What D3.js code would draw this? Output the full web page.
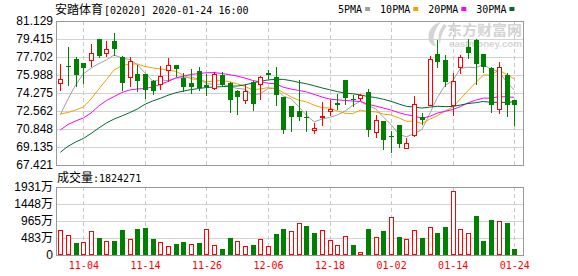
<!DOCTYPE html>
<html>
<head>
<meta charset="utf-8">
<script src="https://cdn.jsdelivr.net/npm/d3@7"></script>
<style>
body { margin: 0; background: #fff; }
svg { display: block; }
</style>
</head>
<body>
<div id="viz"></div>
<script>
// daily k-line, 安踏体育 (02020)
const dates = ['2019-10-30','2019-10-31','2019-11-01','2019-11-04','2019-11-05','2019-11-06','2019-11-07','2019-11-08','2019-11-11','2019-11-12',
  '2019-11-13','2019-11-14','2019-11-15','2019-11-18','2019-11-19','2019-11-20','2019-11-21','2019-11-22','2019-11-25','2019-11-26',
  '2019-11-27','2019-11-28','2019-11-29','2019-12-02','2019-12-03','2019-12-04','2019-12-05','2019-12-06','2019-12-09','2019-12-10',
  '2019-12-11','2019-12-12','2019-12-13','2019-12-16','2019-12-17','2019-12-18','2019-12-19','2019-12-20','2019-12-23','2019-12-24',
  '2019-12-27','2019-12-30','2019-12-31','2020-01-02','2020-01-03','2020-01-06','2020-01-07','2020-01-08','2020-01-09','2020-01-10',
  '2020-01-13','2020-01-14','2020-01-15','2020-01-16','2020-01-17','2020-01-20','2020-01-21','2020-01-22','2020-01-23','2020-01-24'];
const open = [75.20,76.85,77.54,77.10,77.45,79.46,78.08,79.20,77.67,75.77,
  76.08,76.08,75.39,75.16,76.44,76.97,75.70,75.23,76.40,75.07,
  74.75,76.00,75.23,74.44,73.58,75.32,75.16,76.18,75.77,73.90,
  73.01,72.53,71.99,70.75,71.99,72.53,73.32,75.54,73.71,73.80,
  74.37,70.54,71.58,70.18,71.20,69.01,70.31,71.96,73.16,77.99,
  77.42,73.10,76.72,78.65,79.32,77.99,76.65,72.78,76.02,73.61];
const high = [77.04,78.65,77.67,77.15,78.94,79.46,79.19,79.99,77.77,77.67,
  76.97,76.08,75.54,76.82,77.61,76.97,76.18,76.56,76.75,76.08,
  76.24,76.24,75.29,74.59,75.16,75.39,75.87,76.44,76.72,73.90,
  73.01,75.54,72.53,71.42,73.42,73.64,74.18,75.54,74.12,74.18,
  74.69,72.21,71.58,70.63,71.20,69.96,74.02,72.37,77.77,79.35,
  77.85,76.18,77.92,79.44,79.44,77.99,76.75,77.20,76.18,73.61];
const low = [74.59,75.07,74.91,75.20,76.81,77.70,77.77,77.92,74.59,74.94,
  74.44,73.80,74.18,74.69,75.39,75.87,74.49,74.28,74.59,74.12,
  74.69,75.00,72.47,72.31,73.32,72.69,73.73,75.75,73.10,70.47,
  70.63,71.74,70.63,70.47,71.20,72.21,72.78,73.23,73.01,73.64,
  70.18,70.06,68.97,68.63,69.10,69.01,70.15,71.32,73.10,76.75,
  74.91,72.21,76.18,77.60,75.14,76.27,72.47,72.37,72.05,71.20];
const close = [75.61,76.78,76.02,76.69,78.08,77.80,78.49,78.45,75.23,77.35,
  75.39,74.59,74.50,75.86,76.91,76.59,74.85,74.85,74.75,74.85,
  76.08,75.07,73.64,73.90,74.49,73.23,75.80,76.02,74.06,70.78,
  71.95,72.00,71.93,70.94,72.09,72.78,73.16,73.80,73.61,74.06,
  70.72,71.68,69.77,70.12,69.42,69.49,73.23,71.74,77.51,77.20,
  75.29,75.39,77.67,78.08,77.04,76.72,73.10,76.72,73.16,73.10];
const ma5 = [72.21,73.70,75.05,76.10,76.64,77.07,77.42,77.90,77.61,77.46,
  76.98,76.20,75.41,75.54,75.45,75.69,75.74,75.81,75.59,75.18,
  75.08,75.12,74.88,74.71,74.64,74.07,74.21,74.69,74.72,73.98,
  73.72,72.97,72.15,71.53,71.79,71.95,72.18,72.55,73.09,73.48,
  73.07,72.77,71.97,71.27,70.34,70.10,70.41,70.80,72.28,73.83,
  74.99,75.43,76.61,76.73,76.69,76.98,76.52,76.33,75.35,74.56];
const ma10 = [72.28,72.42,72.66,72.94,73.71,74.64,75.56,76.48,76.86,77.05,
  77.03,76.81,76.66,76.57,76.46,76.34,75.97,75.61,75.56,75.34,
  75.41,75.46,75.35,75.15,74.91,74.57,74.67,74.78,74.71,74.31,
  73.90,73.59,73.42,73.12,72.88,72.84,72.57,72.35,72.31,72.64,
  72.51,72.48,72.26,72.18,71.91,71.58,71.59,71.38,71.77,72.09,
  72.55,72.92,73.71,74.50,75.26,75.99,75.97,76.47,76.04,75.63];
const ma20 = [70.75,71.28,71.61,71.90,72.37,73.04,73.56,73.94,74.32,74.56,
  74.66,74.70,74.85,75.09,75.37,75.70,75.89,76.04,76.13,76.20,
  76.22,76.13,76.02,75.88,75.70,75.47,75.33,75.21,75.15,74.82,
  74.65,74.52,74.38,74.14,73.90,73.70,73.62,73.57,73.51,73.47,
  73.20,73.03,72.84,72.65,72.40,72.21,72.08,71.87,72.04,72.36,
  72.53,72.70,72.98,73.34,73.59,73.79,73.78,73.93,73.91,73.86];
const ma30 = [68.63,69.20,69.61,69.95,70.42,70.94,71.42,71.80,72.09,72.40,
  72.75,73.20,73.51,73.77,74.06,74.30,74.46,74.60,74.70,74.80,
  74.84,74.88,74.92,74.94,75.05,75.22,75.39,75.52,75.58,75.57,
  75.45,75.29,75.15,74.96,74.76,74.59,74.41,74.26,74.20,74.09,
  73.94,73.84,73.68,73.48,73.23,73.00,72.94,72.84,72.93,73.01,
  72.98,72.99,73.13,73.27,73.35,73.47,73.38,73.40,73.37,73.45];
const volume = [7100000,5680000,3500000,3690000,6820000,4920000,3980000,3980000,7100000,4540000,
  7380000,7760000,4540000,3690000,2560000,3120000,3790000,3120000,3410000,7380000,
  2840000,1700000,4920000,3980000,2560000,2840000,4540000,2560000,5960000,7380000,
  6820000,8990000,8240000,6250000,7000000,4260000,2840000,5400000,2840000,760000,
  7380000,5110000,6820000,10700000,5110000,4540000,7000000,4830000,7950000,6250000,
  7950000,18180000,7380000,6150000,11080000,3980000,9940000,9560000,9090000,1824271];

const priceTicks = [81.129, 79.415, 77.702, 75.988, 74.275, 72.562, 70.848, 69.135, 67.421];
const volTicks = [0, 4830000, 9650000, 14480000, 19310000];
const tickDates = ['2019-11-04','2019-11-14','2019-11-26','2019-12-06','2019-12-18','2020-01-02','2020-01-14','2020-01-24'];
const maNames = ['5PMA', '10PMA', '20PMA', '30PMA'];
const stockName = '安踏体育';
const stamp = '[02020] 2020-01-24 16:00';

const W = 578, H = 276;
const left = 56, right = 523;
const pTop = 21, pBot = 165, vTop = 187, vBot = 255;
const RED = '#ff0000', GREEN = '#008000';
const maColors = ['#a0a0a0', '#f5a000', '#ff00ff', '#006a32'];
const mono = '"DejaVu Sans Mono", monospace';
const cjk = '"Noto Sans CJK SC", sans-serif';
const sans = '"Liberation Sans", "Noto Sans CJK SC", sans-serif';

const rows = dates.map((d, i) => ({
    date: d, o: open[i], h: high[i], l: low[i], c: close[i], v: volume[i],
    vup: i === 0 ? close[i] >= open[i] : close[i] >= close[i - 1]
}));

const svg = d3.select('#viz').append('svg')
    .attr('width', W)
    .attr('height', H);

const x = d3.scalePoint().domain(dates).range([60.3, 514.2]);
const y = d3.scaleLinear()
    .domain([priceTicks[priceTicks.length - 1], priceTicks[0]])
    .range([pBot, pTop]);
const yv = d3.scaleLinear()
    .domain([0, volTicks[volTicks.length - 1]])
    .range([vBot, vTop]);

// watermark
const wm = svg.append('g').attr('fill', '#d4d4d4');
wm.append('path')
    .attr('d', 'M441,22 C432,24 427,32 429,40 C430,44 433,46 436,46 C432,40 433,31 441,22 Z M444,24 C439,30 437,37 440,44 C441,36 443,30 447,26 Z');
wm.append('text').attr('x', 447).attr('y', 34.5)
    .style('font-family', cjk).style('font-size', '14px').style('font-weight', 'bold')
    .attr('textLength', 75).attr('lengthAdjust', 'spacingAndGlyphs')
    .text('东方财富网');
wm.append('text').attr('x', 449).attr('y', 47)
    .attr('textLength', 73).attr('lengthAdjust', 'spacingAndGlyphs')
    .style('font-family', sans).style('font-size', '9px').style('font-weight', 'bold')
    .text('eastmoney.com');

// grid
const grid = svg.append('g').attr('shape-rendering', 'crispEdges');
grid.selectAll('line.ph').data(priceTicks.slice(1, -1)).enter().append('line')
    .attr('x1', left).attr('x2', right)
    .attr('y1', d => Math.round(y(d)) + 0.5).attr('y2', d => Math.round(y(d)) + 0.5)
    .attr('stroke', '#d2d2d2');
grid.selectAll('line.vh').data(volTicks.slice(1, -1)).enter().append('line')
    .attr('x1', left).attr('x2', right)
    .attr('y1', d => Math.round(yv(d)) + 0.5).attr('y2', d => Math.round(yv(d)) + 0.5)
    .attr('stroke', '#d2d2d2');
[[pTop, pBot], [vTop, vBot]].forEach(([t, b]) => {
    grid.selectAll(null).data(tickDates).enter().append('line')
        .attr('x1', d => Math.round(x(d)) + 0.5).attr('x2', d => Math.round(x(d)) + 0.5)
        .attr('y1', t).attr('y2', b)
        .attr('stroke', '#c8c8c8').attr('stroke-dasharray', '4,3');
});

// frames
[[pTop, pBot], [vTop, vBot]].forEach(([t, b]) => {
    svg.append('rect')
        .attr('x', left + 0.5).attr('y', t + 0.5)
        .attr('width', right - left).attr('height', b - t)
        .attr('fill', 'none').attr('stroke', '#999')
        .attr('shape-rendering', 'crispEdges');
});

// moving averages
[ma5, ma10, ma20, ma30].forEach((ma, k) => {
    svg.append('path')
        .datum(ma)
        .attr('fill', 'none')
        .attr('stroke', maColors[k])
        .attr('stroke-width', 1)
        .attr('d', d3.line().x((d, i) => x(dates[i])).y(d => y(d)));
});

// candles
const cg = svg.append('g').attr('shape-rendering', 'crispEdges');
rows.forEach(d => {
    const cx = Math.round(x(d.date));
    const up = d.c >= d.o;
    const col = up ? RED : GREEN;
    const top = Math.round(y(Math.max(d.o, d.c)));
    const bot = Math.round(y(Math.min(d.o, d.c)));
    cg.append('line')
        .attr('x1', cx + 0.5).attr('x2', cx + 0.5)
        .attr('y1', Math.round(y(d.h))).attr('y2', Math.round(y(d.l)) + 1)
        .attr('stroke', col);
    if (up) {
        cg.append('rect')
            .attr('x', cx - 1.5).attr('y', top + 0.5)
            .attr('width', 4).attr('height', Math.max(1, bot - top))
            .attr('fill', '#fff').attr('stroke', col);
    } else {
        cg.append('rect')
            .attr('x', cx - 2).attr('y', top)
            .attr('width', 5).attr('height', Math.max(1, bot - top))
            .attr('fill', col);
    }
});

// volume bars
const vg = svg.append('g').attr('shape-rendering', 'crispEdges');
rows.forEach(d => {
    const cx = Math.round(x(d.date));
    const top = Math.round(yv(d.v));
    if (d.vup) {
        vg.append('rect')
            .attr('x', cx - 1.5).attr('y', top + 0.5)
            .attr('width', 4).attr('height', Math.max(1, vBot - top - 1))
            .attr('fill', '#fff').attr('stroke', RED);
    } else {
        vg.append('rect')
            .attr('x', cx - 2).attr('y', top)
            .attr('width', 5).attr('height', Math.max(1, vBot - top))
            .attr('fill', GREEN);
    }
});

// axes
function styleAxis(g, family, size, color) {
    g.select('.domain').remove();
    g.selectAll('text')
        .style('font-family', family)
        .style('font-size', size)
        .attr('fill', color);
}
svg.append('g')
    .attr('transform', `translate(${left},0)`)
    .call(d3.axisLeft(y).tickValues(priceTicks).tickFormat(d3.format('.3f')).tickSize(0).tickPadding(3))
    .call(g => styleAxis(g, sans, '12px', '#000'));
svg.append('g')
    .attr('transform', `translate(${left},0)`)
    .call(d3.axisLeft(yv).tickValues(volTicks)
        .tickFormat(d => d === 0 ? '0' : Math.round(d / 1e4) + '万')
        .tickSize(0).tickPadding(3))
    .call(g => styleAxis(g, sans, '12px', '#000'));
svg.append('g')
    .attr('transform', `translate(0,${vBot})`)
    .call(d3.axisBottom(x).tickValues(tickDates).tickFormat(d => d.slice(5)).tickSize(0).tickPadding(6.5))
    .call(g => styleAxis(g, mono, '10px', RED));

// header
const title = svg.append('text').attr('x', 55).attr('y', 14).attr('fill', '#000');
title.append('tspan').style('font-family', cjk).style('font-size', '12px').text(stockName);
title.append('tspan').attr('dx', 1).attr('dy', -0.5).style('font-family', mono).style('font-size', '10px').text(stamp);

let lx = 338;
maNames.forEach((name, k) => {
    const t = svg.append('text').attr('x', lx).attr('y', 13)
        .style('font-family', mono).style('font-size', '10px').attr('fill', '#000')
        .text(name);
    const tw = t.node().getComputedTextLength();
    svg.append('rect')
        .attr('x', lx + tw + 3).attr('y', 7)
        .attr('width', 5).attr('height', 4)
        .attr('fill', maColors[k]);
    lx += tw + 18;
});

const vt = svg.append('text').attr('x', 57).attr('y', 182).attr('fill', '#000');
vt.append('tspan').style('font-family', cjk).style('font-size', '12px').text('成交量');
vt.append('tspan').attr('dy', -0.5).style('font-family', mono).style('font-size', '10px')
    .text(':' + volume[volume.length - 1]);
</script>
</body>
</html>
